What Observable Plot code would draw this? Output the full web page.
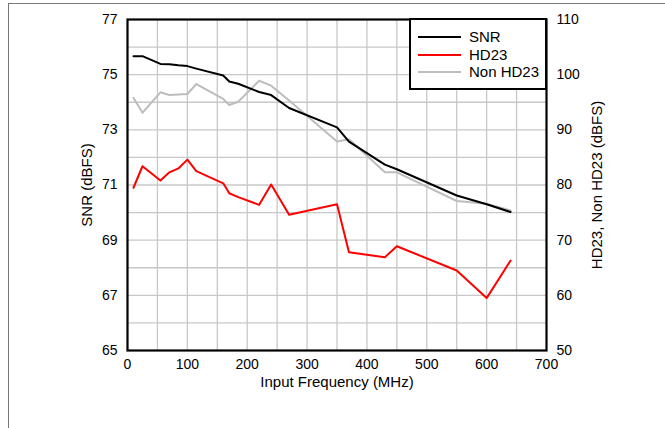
<!DOCTYPE html>
<html><head><meta charset="utf-8">
<script src="https://cdn.jsdelivr.net/npm/d3@7"></script>
<script src="https://cdn.jsdelivr.net/npm/@observablehq/plot@0.6"></script>
<style>
html,body{margin:0;padding:0;background:#fff;}
body{width:665px;height:428px;overflow:hidden;position:relative;font-family:"Liberation Sans",Arial,sans-serif;}
#border{position:absolute;left:8px;top:3px;width:720px;height:500px;border:1px solid #777;box-sizing:border-box;}
#chart{position:absolute;left:0;top:0;}
#legend{position:absolute;left:409px;top:18px;width:138px;height:72px;box-sizing:border-box;border:2px solid #000;background:#fff;}
.item{position:absolute;left:0;height:18px;width:136px;}
.item svg{position:absolute;left:7px;top:0;}
.item span{position:absolute;left:58px;top:0;font-size:15px;line-height:18px;color:#000;}
</style>
</head><body>
<div id="border"></div>
<div id="chart"></div>
<div id="legend"></div>
<script>
// Input frequency (MHz)
const freq = [10, 25, 55, 70, 85, 100, 115, 160, 170, 185, 220, 240, 270, 350, 370, 430, 450, 550, 600, 640];
// SNR (dBFS), left axis
const snr = [75.67, 75.67, 75.39, 75.38, 75.34, 75.31, 75.22, 74.97, 74.75, 74.67, 74.37, 74.26, 73.79, 73.09, 72.57, 71.74, 71.57, 70.62, 70.30, 70.02];
// HD23 (dBFS), right axis
const hd23 = [79.5, 83.4, 80.8, 82.3, 83.0, 84.6, 82.5, 80.3, 78.5, 77.8, 76.4, 80.1, 74.6, 76.5, 67.8, 66.9, 68.9, 64.5, 59.5, 66.3];
// Non HD23 (dBFS), right axis
const nonHd23 = [95.8, 93.1, 96.8, 96.3, 96.4, 96.5, 98.3, 95.6, 94.5, 95.1, 98.9, 98.0, 95.3, 87.9, 88.3, 82.3, 82.3, 77.1, 76.6, 75.4];

const xTicks = [0, 100, 200, 300, 400, 500, 600, 700];
const xGrid = [50, 100, 150, 200, 250, 300, 350, 400, 450, 500, 550, 600, 650];
const leftTicks = [65, 67, 69, 71, 73, 75, 77];
const yGrid = [66, 67, 68, 69, 70, 71, 72, 73, 74, 75, 76];
const rightTicks = [50, 60, 70, 80, 90, 100, 110];

const xTitle = "Input Frequency (MHz)";
const leftTitle = "SNR (dBFS)";
const rightTitle = "HD23, Non HD23 (dBFS)";

const seriesNames = ["SNR", "HD23", "Non HD23"];
const seriesColors = ["#000000", "#ff0000", "#bdbdbd"];

// right axis (50..110) mapped onto left axis (65..77)
const L0 = 65, L1 = 77, R0 = 50, R1 = 110;
const toLeft = v => L0 + (v - R0) * (L1 - L0) / (R1 - R0);
const toRight = v => Math.round(R0 + (v - L0) * (R1 - R0) / (L1 - L0));

const rows = freq.map((f, i) => ({f, snr: snr[i], hd: toLeft(hd23[i]), non: toLeft(nonHd23[i])}));

const chart = Plot.plot({
  width: 665, height: 428,
  marginLeft: 127, marginRight: 119, marginTop: 19, marginBottom: 78,
  style: {fontFamily: "'Liberation Sans', Arial, sans-serif", fontSize: "14px", background: "transparent", color: "#000"},
  x: {domain: [0, 700]},
  y: {domain: [65, 77]},
  marks: [
    Plot.gridX(xGrid, {stroke: "#c8c8c8", strokeOpacity: 1, strokeWidth: 1.3}),
    Plot.gridY(yGrid, {stroke: "#c8c8c8", strokeOpacity: 1, strokeWidth: 1.3}),
    Plot.line(rows, {x: "f", y: "non", stroke: seriesColors[2], strokeWidth: 2}),
    Plot.line(rows, {x: "f", y: "hd", stroke: seriesColors[1], strokeWidth: 2}),
    Plot.line(rows, {x: "f", y: "snr", stroke: seriesColors[0], strokeWidth: 2}),
    Plot.frame({stroke: "#000", strokeWidth: 2.2}),
    Plot.axisX(xTicks, {tickSize: 0, tickPadding: 9, fontSize: 14, label: null}),
    Plot.axisY(leftTicks, {anchor: "left", tickSize: 0, tickPadding: 10, fontSize: 14, label: null}),
    Plot.axisY(leftTicks, {anchor: "right", tickSize: 0, tickPadding: 10, fontSize: 14, tickFormat: toRight, label: null}),
    Plot.text([xTitle], {text: d => d, frameAnchor: "bottom", dy: 32, lineAnchor: "middle", textAnchor: "middle", fontSize: 15}),
    Plot.text([leftTitle], {text: d => d, frameAnchor: "left", dx: -40, rotate: -90, textAnchor: "middle", lineAnchor: "middle", fontSize: 15}),
    Plot.text([rightTitle], {text: d => d, frameAnchor: "right", dx: 51, rotate: -90, textAnchor: "middle", lineAnchor: "middle", fontSize: 15})
  ]
});
document.getElementById("chart").appendChild(chart);

const legend = document.getElementById("legend");
const legendTops = [8, 26, 43];
seriesNames.forEach((name, i) => {
  const it = document.createElement("div");
  it.className = "item";
  it.style.top = legendTops[i] + "px";
  it.innerHTML = `<svg width="44" height="18"><line x1="0" x2="43" y1="9" y2="9" stroke="${seriesColors[i]}" stroke-width="2"/></svg><span>${name}</span>`;
  legend.appendChild(it);
});
</script>
</body></html>
